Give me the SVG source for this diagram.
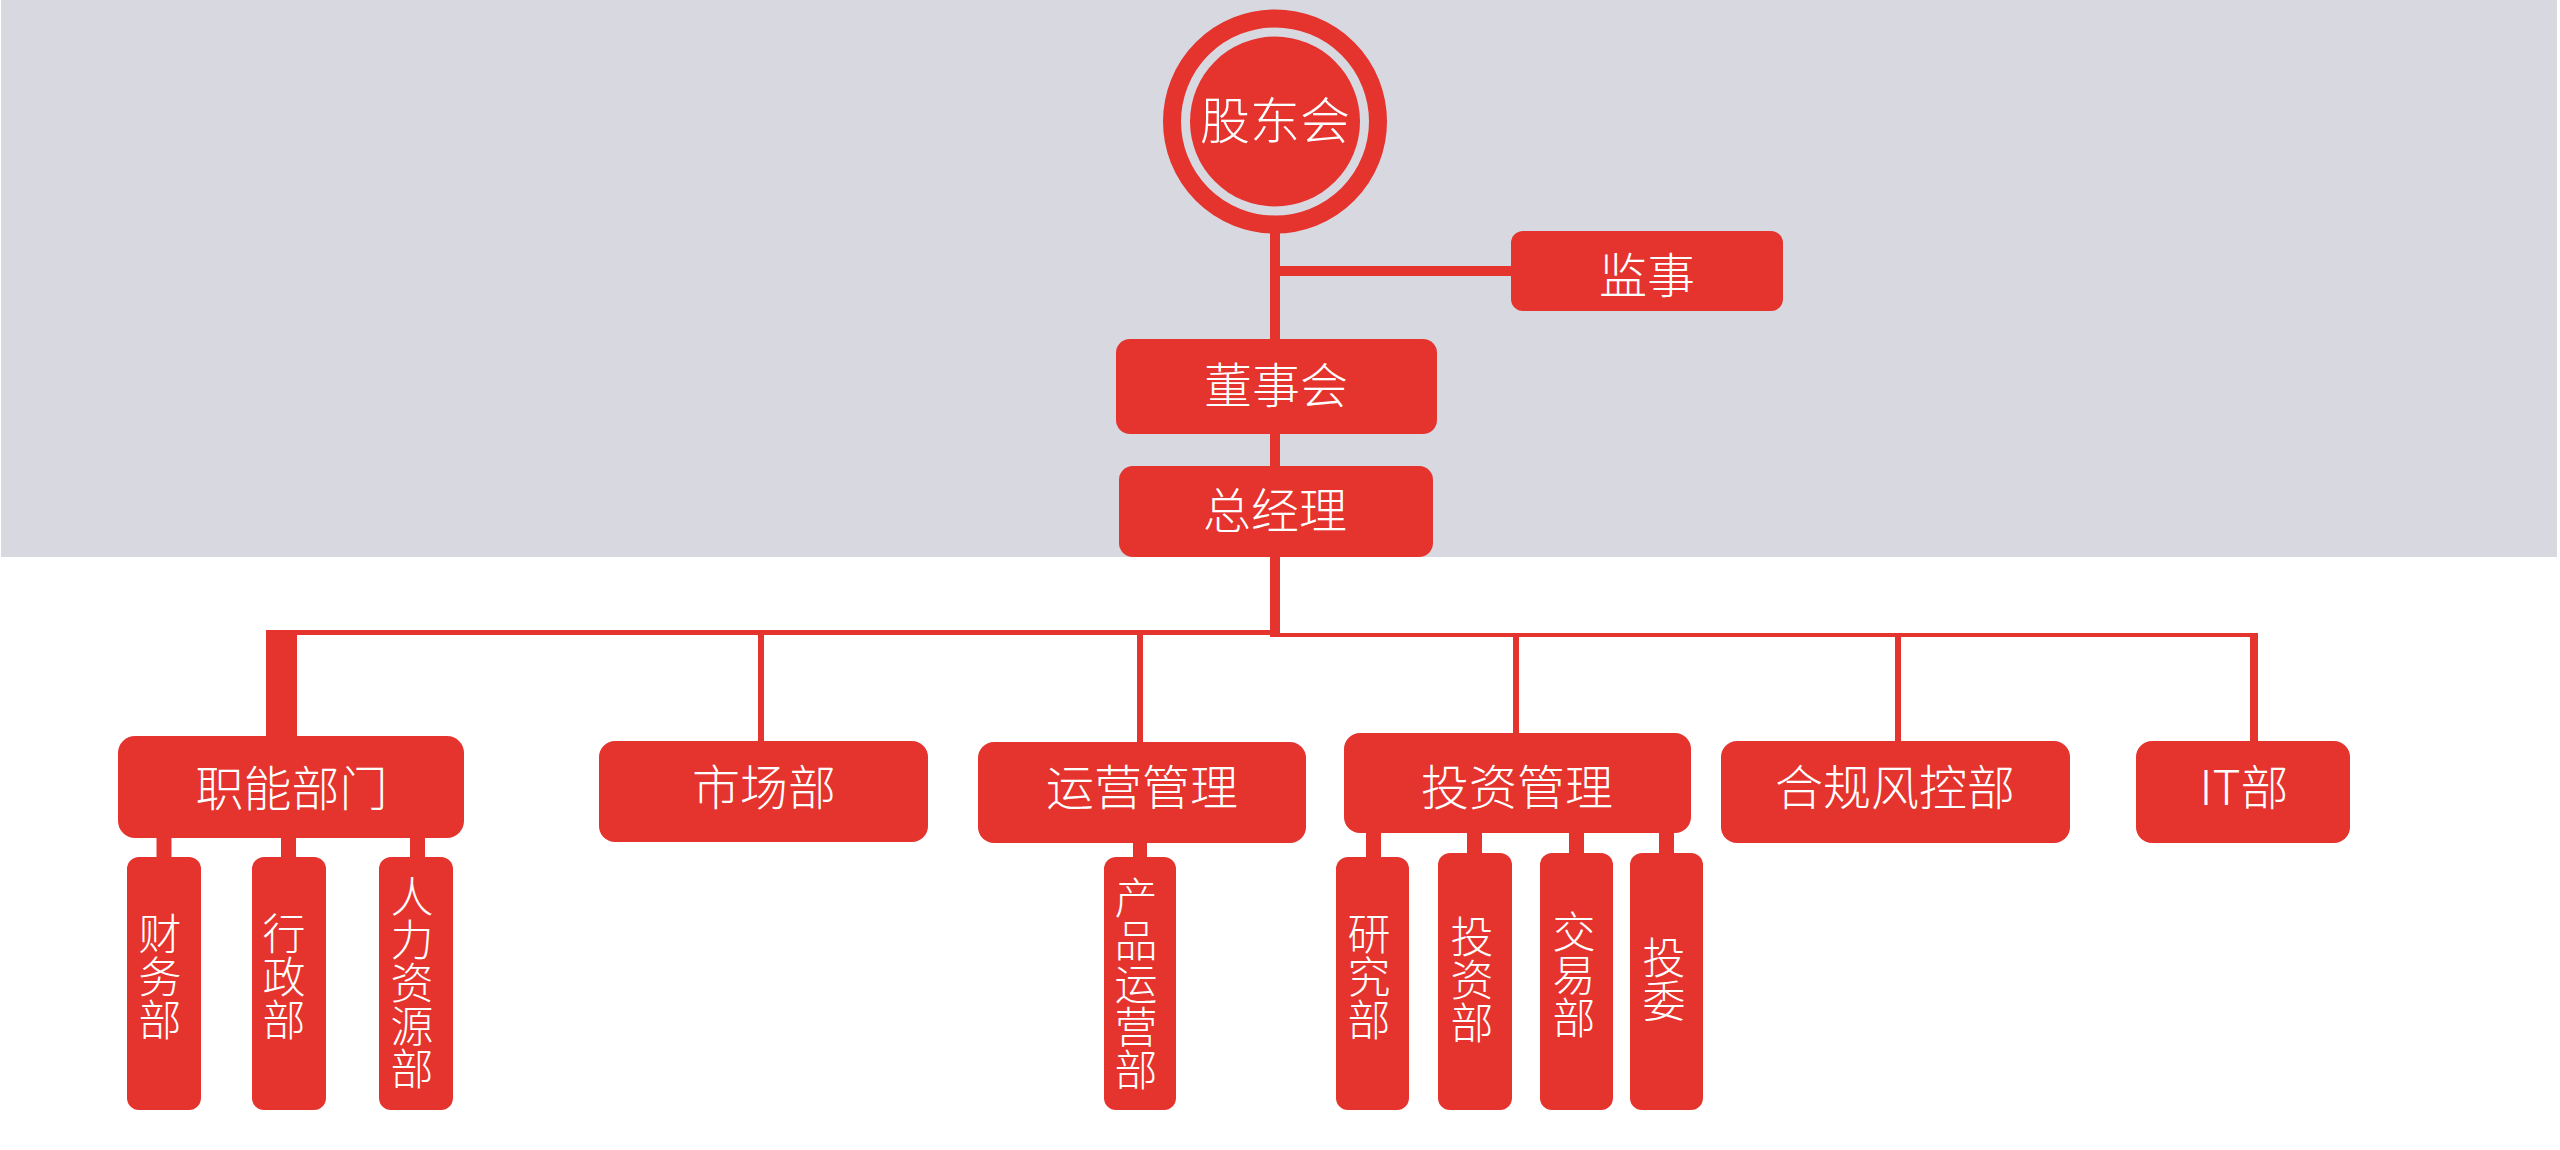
<svg xmlns="http://www.w3.org/2000/svg" width="2560" height="1150" viewBox="0 0 2560 1150">
<style>
.box{fill:#e5332e}
.ln{stroke:#e5332e;fill:none}
.t{fill:#ffffff;font-family:'Noto Sans CJK SC','Noto Sans CJK JP',sans-serif;font-weight:300;text-anchor:middle}
.h{font-size:48px}
.v{font-size:43px;writing-mode:vertical-rl;text-orientation:upright}
</style>
<rect x="0" y="0" width="2560" height="1150" fill="#ffffff"/>
<rect x="1" y="0" width="2556" height="557" fill="#d8d8e1"/>

<g id="connectors">
  <line class="ln" x1="1275" y1="225" x2="1275" y2="637" stroke-width="10"/>
  <line class="ln" x1="1275" y1="271" x2="1515" y2="271" stroke-width="10"/>
  <line class="ln" x1="266" y1="632.5" x2="1280" y2="632.5" stroke-width="5"/>
  <line class="ln" x1="1275" y1="635" x2="2258" y2="635" stroke-width="4"/>
  <rect class="box" x="266" y="630" width="31" height="110"/>
  <line class="ln" x1="761" y1="632" x2="761" y2="745" stroke-width="6"/>
  <line class="ln" x1="1140" y1="632" x2="1140" y2="746" stroke-width="6"/>
  <line class="ln" x1="1516" y1="634" x2="1516" y2="737" stroke-width="6"/>
  <line class="ln" x1="1898" y1="634" x2="1898" y2="745" stroke-width="6"/>
  <line class="ln" x1="2254" y1="633" x2="2254" y2="745" stroke-width="8"/>
  <line class="ln" x1="164" y1="834" x2="164" y2="861" stroke-width="15"/>
  <line class="ln" x1="288.5" y1="834" x2="288.5" y2="861" stroke-width="15"/>
  <line class="ln" x1="417.5" y1="834" x2="417.5" y2="861" stroke-width="15"/>
  <line class="ln" x1="1140" y1="839" x2="1140" y2="861" stroke-width="14"/>
  <line class="ln" x1="1373.5" y1="829" x2="1373.5" y2="861" stroke-width="15"/>
  <line class="ln" x1="1474.5" y1="829" x2="1474.5" y2="857" stroke-width="15"/>
  <line class="ln" x1="1576.5" y1="829" x2="1576.5" y2="857" stroke-width="15"/>
  <line class="ln" x1="1666.5" y1="829" x2="1666.5" y2="857" stroke-width="15"/>
</g>

<g id="gudonghui">
  <circle cx="1275" cy="121.5" r="103" fill="none" stroke="#e5332e" stroke-width="18"/>
  <circle class="box" cx="1275" cy="121.5" r="85"/>
  <text class="t" x="1275" y="138.5" font-size="50">股东会</text>
</g>
<g id="jianshi">
  <rect class="box" x="1511" y="231" width="272" height="80" rx="12"/>
  <text class="t h" x="1647" y="293">监事</text>
</g>
<g id="dongshihui">
  <rect class="box" x="1116" y="339" width="321" height="95" rx="14"/>
  <text class="t h" x="1276" y="402.5">董事会</text>
</g>
<g id="zongjingli">
  <rect class="box" x="1119" y="466" width="314" height="91" rx="14"/>
  <text class="t h" x="1275" y="527.5">总经理</text>
</g>

<g id="zhineng">
  <rect class="box" x="118" y="736" width="346" height="102" rx="17"/>
  <text class="t h" x="291.5" y="806">职能部门</text>
</g>
<g id="shichang">
  <rect class="box" x="599" y="741" width="329" height="101" rx="16"/>
  <text class="t h" x="764" y="805">市场部</text>
</g>
<g id="yunying">
  <rect class="box" x="978" y="742" width="328" height="101" rx="16"/>
  <text class="t h" x="1142" y="805">运营管理</text>
</g>
<g id="touzi">
  <rect class="box" x="1344" y="733" width="347" height="100" rx="16"/>
  <text class="t h" x="1517" y="804.5">投资管理</text>
</g>
<g id="hegui">
  <rect class="box" x="1721" y="741" width="349" height="102" rx="16"/>
  <text class="t h" x="1895" y="804.5">合规风控部</text>
</g>
<g id="it">
  <rect class="box" x="2136" y="741" width="214" height="102" rx="16"/>
  <text class="t h" x="2244" y="805">IT部</text>
</g>

<g id="caiwu">
  <rect class="box" x="127" y="857" width="74" height="253" rx="12"/>
  <text class="t v" x="160" y="977">财务部</text>
</g>
<g id="xingzheng">
  <rect class="box" x="252" y="857" width="74" height="253" rx="12"/>
  <text class="t v" x="284" y="977">行政部</text>
</g>
<g id="renli">
  <rect class="box" x="379" y="857" width="74" height="253" rx="12"/>
  <text class="t v" x="412" y="982.6">人力资源部</text>
</g>
<g id="chanpin">
  <rect class="box" x="1104" y="857" width="72" height="253" rx="12"/>
  <text class="t v" x="1136" y="983.5">产品运营部</text>
</g>
<g id="yanjiu">
  <rect class="box" x="1336" y="857" width="73" height="253" rx="12"/>
  <text class="t v" x="1369" y="976.5">研究部</text>
</g>
<g id="touzibu">
  <rect class="box" x="1438" y="853" width="74" height="257" rx="12"/>
  <text class="t v" x="1472" y="980">投资部</text>
</g>
<g id="jiaoyi">
  <rect class="box" x="1540" y="853" width="73" height="257" rx="12"/>
  <text class="t v" x="1574" y="975">交易部</text>
</g>
<g id="touwei">
  <rect class="box" x="1630" y="853" width="73" height="257" rx="12"/>
  <text class="t v" x="1664" y="979">投委</text>
</g>
</svg>
